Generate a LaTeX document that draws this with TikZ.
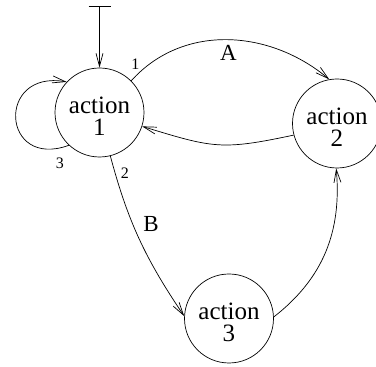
\documentclass[tikz,border=0pt]{standalone}
\usepackage{fontspec}
\setmainfont{Liberation Serif}
\usetikzlibrary{arrows.meta}
\tikzset{
  state/.style={circle,draw,line width=0.7pt,minimum size=89pt,inner sep=0pt,align=center,
    text height=47pt,font=\fontsize{25}{22.5}\selectfont},
  conn/.style={line width=0.7pt,-{Straight Barb[length=13pt,width=7pt]}},
  small/.style={font=\fontsize{16}{16}\selectfont,inner sep=0pt},
  big/.style={font=\fontsize{23}{23}\selectfont,inner sep=0pt}
}
\begin{document}
\begin{tikzpicture}[x=1pt,y=1pt]
\useasboundingbox (0,0) rectangle (376,367);
\node[state] (n1) at (99.5,254.5) {action\\1};
\node[state] (n2) at (337,243.5) {action\\2};
\node[state] (n3) at (229,48.5) {action\\3};
\coordinate (init) at (99.5,361.3);
\draw[line width=0.7pt,{Bar[width=22pt]}-{Straight Barb[length=13pt,width=7pt]}] (init) -- (n1);
\draw[conn] (n1.227) to[out=200,in=170,looseness=2.9] (n1.137);
\draw[conn] (n1.45) to[out=48,in=140] (n2.100);
\draw[conn] (n2.195) to[out=192,in=-17,looseness=1.25] (n1.-18);
\draw[conn] (n1.-76) to[out=-75,in=124] (n3.177);
\draw[conn] (n3.2) to[out=38,in=-85] (n2.-91);
\node[small] (l1) at (135.5,303) {1};
\node[small] (l2) at (125,194) {2};
\node[small] (l3) at (60,204) {3};
\node[big] (lA) at (228.5,314) {A};
\node[big] (lB) at (151,142.5) {B};
\end{tikzpicture}
\end{document}
